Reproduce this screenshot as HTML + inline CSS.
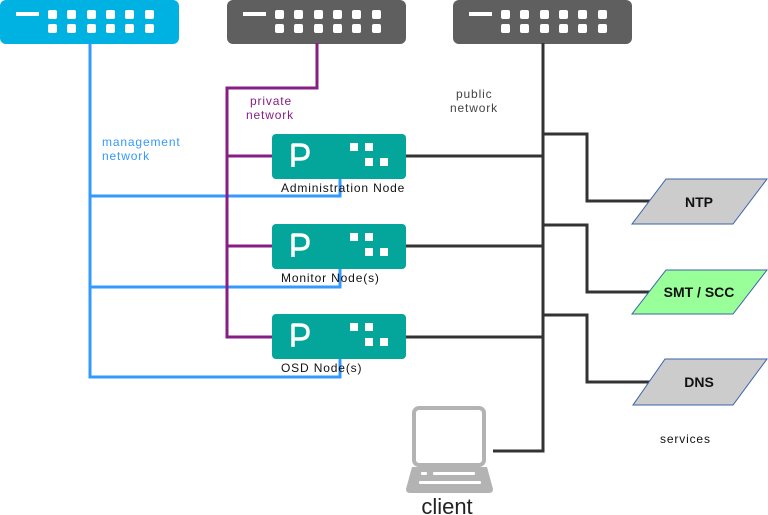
<!DOCTYPE html>
<html><head><style>body{margin:0;background:#fff}svg{display:block}text{font-family:"Liberation Sans",sans-serif}</style></head><body>
<svg width="768" height="515" viewBox="0 0 768 515" xmlns="http://www.w3.org/2000/svg">
<defs>
<g id="sw">
<rect x="16" y="12" width="23" height="4" fill="#fff"/>
<g fill="#fff">
<rect x="48" y="10" width="9" height="9" rx="2"/><rect x="67" y="10" width="9" height="9" rx="2"/><rect x="87" y="10" width="9" height="9" rx="2"/><rect x="106" y="10" width="9" height="9" rx="2"/><rect x="125" y="10" width="9" height="9" rx="2"/><rect x="145" y="10" width="9" height="9" rx="2"/>
<rect x="48" y="24" width="9" height="9" rx="2"/><rect x="67" y="24" width="9" height="9" rx="2"/><rect x="87" y="24" width="9" height="9" rx="2"/><rect x="106" y="24" width="9" height="9" rx="2"/><rect x="125" y="24" width="9" height="9" rx="2"/><rect x="145" y="24" width="9" height="9" rx="2"/>
</g></g>
<g id="node">
<rect x="0" y="0" width="134" height="45" rx="4" fill="#04a59b"/>
<path d="M21 33 V11 H28 Q36 11 36 18 Q36 25 28 25 H21" fill="none" stroke="#fff" stroke-width="3.5" stroke-linejoin="round"/>
<g fill="#fff"><rect x="78" y="9" width="8" height="8"/><rect x="93" y="9" width="8" height="8"/><rect x="93" y="24" width="8" height="8"/><rect x="108" y="24" width="8" height="8"/></g>
</g>
</defs>
<rect x="0" y="0" width="179" height="44" rx="6" fill="#00b2e1"/><use href="#sw"/>
<rect x="227" y="0" width="179" height="44" rx="6" fill="#5f5f5f"/><use href="#sw" x="227"/>
<rect x="453" y="0" width="179" height="44" rx="6" fill="#5f5f5f"/><use href="#sw" x="453"/>
<g fill="none" stroke="#3399ff" stroke-width="3">
<path d="M90 43 V377 H340 V358"/><path d="M90 196 H340 V178"/><path d="M90 287 H340 V268"/>
</g>
<g fill="none" stroke="#861e86" stroke-width="3">
<path d="M317 43 V88 H227 V337 H272"/><path d="M227 156 H272"/><path d="M227 246 H272"/>
</g>
<g fill="none" stroke="#333" stroke-width="3">
<path d="M543 43 V451 H493"/><path d="M406 156 H543"/><path d="M406 246 H543"/><path d="M406 337 H543"/>
<path d="M543 134 H587 V201 H650"/><path d="M543 225 H587 V292 H650"/><path d="M543 315 H587 V382 H650"/>
</g>
<use href="#node" x="272" y="134"/><use href="#node" x="272" y="224"/><use href="#node" x="272" y="314"/>
<g stroke="#3a64a8" stroke-width="1">
<polygon points="666,179 767,179 733,224 632,224" fill="#cccccc"/>
<polygon points="666,270 767,270 733,314 632,314" fill="#99ff99"/>
<polygon points="665,359 767,359 733,405 633,405" fill="#cccccc"/>
</g>
<g font-weight="bold" font-size="14" text-anchor="middle" fill="#111">
<text x="699" y="207">NTP</text><text x="699" y="297">SMT / SCC</text><text x="699" y="387">DNS</text>
</g>
<g font-size="12" letter-spacing="0.85" fill="#111">
<text x="281" y="192">Administration Node</text>
<text x="281" y="282">Monitor Node(s)</text>
<text x="281" y="372">OSD Node(s)</text>
<text x="660" y="443">services</text>
</g>
<g font-size="12" letter-spacing="0.85" fill="#3399ff"><text x="102" y="146">management</text><text x="102" y="160">network</text></g>
<g font-size="12" letter-spacing="0.85" fill="#861e86"><text x="250" y="105">private</text><text x="246" y="119">network</text></g>
<g font-size="12" letter-spacing="0.85" fill="#444"><text x="456" y="98">public</text><text x="450" y="112">network</text></g>
<rect x="414" y="408" width="70" height="57" rx="5" fill="none" stroke="#b3b3b3" stroke-width="4"/>
<path d="M412 467 H487 L493 489 Q493 493 489 493 H410 Q406 493 406 489 Z" fill="#b3b3b3"/>
<g fill="#fff"><rect x="421" y="472" width="6" height="3" rx="1"/><rect x="433" y="472" width="42" height="3" rx="1"/><rect x="419" y="481" width="62" height="3" rx="1"/></g>
<text x="447" y="514" font-size="22" text-anchor="middle" fill="#222">client</text>
</svg>
</body></html>
